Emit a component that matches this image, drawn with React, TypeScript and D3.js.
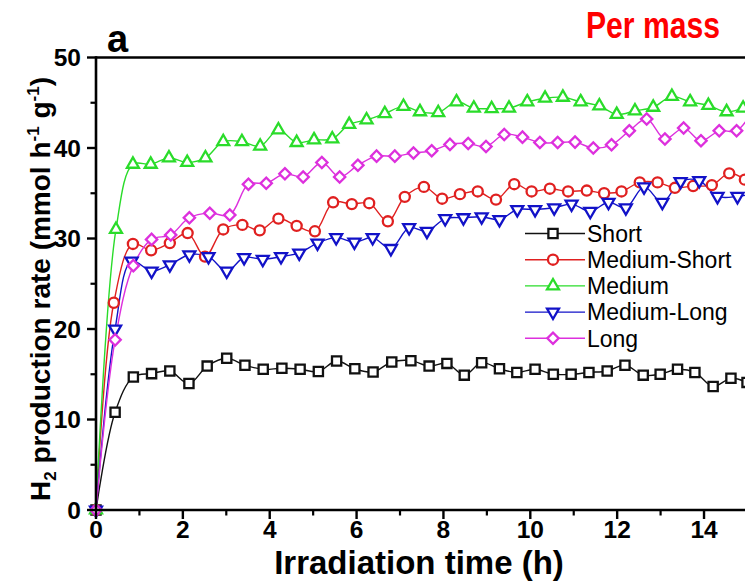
import React from "react";
import * as d3 from "d3";

// Hydrogen evolution per mass for five nanorod aspect ratios
const seriesNames = ["Short", "Medium-Short", "Medium", "Medium-Long", "Long"];

const hoursShort = [0, 0.44, 0.86, 1.28, 1.7, 2.14, 2.56, 3.01, 3.43, 3.85, 4.28, 4.7, 5.12, 5.54, 5.96, 6.38, 6.81, 7.25, 7.67, 8.08, 8.48, 8.88, 9.29, 9.69, 10.11, 10.53, 10.94, 11.35, 11.77, 12.18, 12.6, 12.99, 13.39, 13.79, 14.21, 14.62, 14.99];
const rateShort = [0, 10.8, 14.7, 15.07, 15.36, 13.97, 15.9, 16.76, 16.0, 15.55, 15.66, 15.55, 15.3, 16.46, 15.6, 15.25, 16.35, 16.5, 15.9, 16.2, 14.9, 16.28, 15.6, 15.2, 15.55, 15.0, 15.0, 15.2, 15.36, 16.0, 14.9, 15.0, 15.55, 15.2, 13.65, 14.55, 14.1];

const hoursMediumShort = [0, 0.41, 0.85, 1.27, 1.7, 2.11, 2.51, 2.93, 3.37, 3.77, 4.2, 4.62, 5.04, 5.46, 5.89, 6.29, 6.72, 7.11, 7.55, 7.97, 8.38, 8.79, 9.21, 9.63, 10.03, 10.45, 10.87, 11.3, 11.7, 12.1, 12.52, 12.93, 13.33, 13.75, 14.18, 14.58, 14.94];
const rateMediumShort = [0, 22.9, 29.4, 28.7, 29.5, 30.6, 28.0, 31.0, 31.5, 30.9, 32.2, 31.4, 30.8, 34.0, 33.8, 33.9, 31.9, 34.6, 35.7, 34.4, 34.9, 35.2, 34.3, 36.0, 35.2, 35.5, 35.2, 35.3, 35.0, 35.2, 36.2, 36.2, 35.6, 35.8, 35.9, 37.2, 36.5];

const hoursMedium = [0, 0.46, 0.85, 1.26, 1.68, 2.1, 2.52, 2.93, 3.36, 3.78, 4.2, 4.62, 5.02, 5.44, 5.83, 6.23, 6.65, 7.08, 7.46, 7.88, 8.3, 8.7, 9.11, 9.51, 9.93, 10.34, 10.75, 11.16, 11.59, 11.99, 12.41, 12.83, 13.26, 13.68, 14.1, 14.52, 14.9];
const rateMedium = [0, 31.0, 38.2, 38.2, 38.9, 38.4, 38.9, 40.7, 40.7, 40.2, 42.0, 40.6, 40.9, 41.0, 42.6, 43.1, 43.8, 44.6, 44.0, 43.9, 45.1, 44.4, 44.35, 44.4, 45.1, 45.5, 45.6, 45.1, 44.65, 43.7, 44.1, 44.5, 45.7, 45.1, 44.7, 44.0, 44.4];

const hoursMediumLong = [0, 0.44, 0.82, 1.28, 1.7, 2.15, 2.59, 3.01, 3.41, 3.84, 4.26, 4.68, 5.1, 5.53, 5.95, 6.37, 6.79, 7.21, 7.62, 8.04, 8.46, 8.88, 9.29, 9.7, 10.11, 10.55, 10.95, 11.38, 11.8, 12.2, 12.62, 13.04, 13.46, 13.89, 14.31, 14.77, 15.17];
const rateMediumLong = [0, 20.0, 27.5, 26.4, 27.1, 28.2, 28.0, 26.4, 27.9, 27.7, 28.0, 28.4, 29.5, 30.1, 29.6, 30.1, 28.9, 31.2, 30.8, 32.2, 32.3, 32.4, 32.1, 33.2, 33.2, 33.4, 33.8, 33.0, 34.0, 33.4, 35.7, 34.0, 36.3, 36.4, 34.65, 34.65, 35.0];

const hoursLong = [0, 0.44, 0.86, 1.28, 1.72, 2.15, 2.62, 3.08, 3.51, 3.92, 4.35, 4.77, 5.2, 5.61, 6.03, 6.46, 6.88, 7.31, 7.73, 8.15, 8.57, 8.98, 9.4, 9.82, 10.22, 10.63, 11.03, 11.45, 11.87, 12.28, 12.68, 13.1, 13.53, 13.93, 14.35, 14.75, 15.17];
const rateLong = [0, 18.8, 27.0, 29.9, 30.4, 32.3, 32.8, 32.6, 36.0, 36.1, 37.15, 36.8, 38.4, 36.8, 38.1, 39.1, 39.1, 39.45, 39.7, 40.4, 40.5, 40.17, 41.5, 41.2, 40.6, 40.6, 40.65, 40.0, 40.35, 41.9, 43.2, 41.0, 42.2, 40.8, 41.9, 41.9, 44.5];

const xTickValues = [0, 2, 4, 6, 8, 10, 12, 14];
const yTickValues = [0, 10, 20, 30, 40, 50];

const colors = ["#111111", "#e02020", "#2adc2a", "#1212c8", "#dd30dd"];
const shapes = ["square", "circle", "triangle", "triangleDown", "diamond"];

const series = [
  { hours: hoursShort, rate: rateShort },
  { hours: hoursMediumShort, rate: rateMediumShort },
  { hours: hoursMedium, rate: rateMedium },
  { hours: hoursMediumLong, rate: rateMediumLong },
  { hours: hoursLong, rate: rateLong },
].map((s, i) => ({ ...s, name: seriesNames[i], color: colors[i], shape: shapes[i] }));

const W = 745;
const H = 582;
const x0 = 96;
const pxPerHour = 43.43;
const x = d3.scaleLinear().domain([0, 16]).range([x0, x0 + 16 * pxPerHour]);
const y = d3.scaleLinear().domain([0, 50]).range([510, 57.5]);

const FONT = "'Liberation Sans', Arial, Helvetica, sans-serif";

function markerPath(shape: string): { d: string; rotate: number } {
  switch (shape) {
    case "square":
      return { d: d3.symbol().type(d3.symbolSquare).size(85)()!, rotate: 0 };
    case "circle":
      return { d: d3.symbol().type(d3.symbolCircle).size(80)()!, rotate: 0 };
    case "triangle":
      return { d: d3.symbol().type(d3.symbolTriangle).size(62)()!, rotate: 0 };
    case "triangleDown":
      return { d: d3.symbol().type(d3.symbolTriangle).size(62)()!, rotate: 180 };
    default:
      return { d: d3.symbol().type(d3.symbolSquare).size(64)()!, rotate: 45 };
  }
}

function Marker({ shape, cx, cy, color }: { shape: string; cx: number; cy: number; color: string }) {
  const m = markerPath(shape);
  return (
    <path
      d={m.d}
      transform={`translate(${cx},${cy}) rotate(${m.rotate})`}
      fill="#fff"
      stroke={color}
      strokeWidth={2.3}
    />
  );
}

export default function App() {
  const line = d3
    .line<[number, number]>()
    .x((d) => x(d[0]))
    .y((d) => y(d[1]))
    .curve(d3.curveCatmullRom.alpha(0.5));

  const xMinor = d3.range(1, 16, 2);
  const yMinor = d3.range(5, 50, 10);
  const axisW = 2.6;

  const legendX = 525;
  const legendY0 = 233.5;
  const legendDy = 26.2;

  return (
    <div style={{ position: "absolute", left: 0, top: 0, width: W, height: H, overflow: "hidden" }}>
      <svg width={W} height={H} style={{ display: "block", background: "#fff" }} fontFamily={FONT}>
        {/* series lines */}
        {series.map((s) => (
          <path
            key={s.name + "-line"}
            d={line(s.hours.map((h, i) => [h, s.rate[i]] as [number, number])) || ""}
            fill="none"
            stroke={s.color}
            strokeWidth={1.4}
          />
        ))}
        {/* series markers */}
        {series.map((s) => (
          <g key={s.name + "-pts"}>
            {s.hours.map((h, i) => (
              <Marker key={i} shape={s.shape} cx={x(h)} cy={y(s.rate[i])} color={s.color} />
            ))}
          </g>
        ))}

        {/* frame */}
        <line x1={x0} x2={W + 10} y1={y(50)} y2={y(50)} stroke="#000" strokeWidth={axisW} />
        <line x1={x0} x2={W + 10} y1={y(0)} y2={y(0)} stroke="#000" strokeWidth={axisW} />
        <line x1={x0} x2={x0} y1={y(0) + 1.3} y2={y(50) - 1.3} stroke="#000" strokeWidth={axisW} />

        {/* x ticks */}
        {xTickValues.map((t) => (
          <g key={"xt" + t}>
            <line x1={x(t)} x2={x(t)} y1={y(0)} y2={y(0) + 9} stroke="#000" strokeWidth={2.4} />
            <text x={x(t)} y={537.5} textAnchor="middle" fontSize={24.5} fontWeight="bold">
              {t}
            </text>
          </g>
        ))}
        {xMinor.map((t) => (
          <line key={"xm" + t} x1={x(t)} x2={x(t)} y1={y(0)} y2={y(0) + 5.5} stroke="#000" strokeWidth={2.2} />
        ))}

        {/* y ticks */}
        {yTickValues.map((t) => (
          <g key={"yt" + t}>
            <line x1={x0 - 9} x2={x0} y1={y(t)} y2={y(t)} stroke="#000" strokeWidth={2.4} />
            <text x={81} y={y(t) + 8.7} textAnchor="end" fontSize={24.5} fontWeight="bold">
              {t}
            </text>
          </g>
        ))}
        {yMinor.map((t) => (
          <line key={"ym" + t} x1={x0 - 5.5} x2={x0} y1={y(t)} y2={y(t)} stroke="#000" strokeWidth={2.2} />
        ))}

        {/* axis titles */}
        <text x={419} y={574} textAnchor="middle" fontSize={33} fontWeight="bold">
          Irradiation time (h)
        </text>
        <text
          transform={`translate(50,${289}) rotate(-90)`}
          textAnchor="middle"
          fontSize={28}
          fontWeight="bold"
        >
          H<tspan fontSize={17} dy={6}>2</tspan>
          <tspan dy={-6}> production rate (mmol h</tspan>
          <tspan fontSize={17} dy={-11}>-1</tspan>
          <tspan dy={11}> g</tspan>
          <tspan fontSize={17} dy={-11}>-1</tspan>
          <tspan dy={11}>)</tspan>
        </text>

        {/* panel letter and heading */}
        <text x={107} y={52} fontSize={38} fontWeight="bold">
          a
        </text>
        <text
          x={586}
          y={38}
          fontSize={36}
          fontWeight="bold"
          fill="#ff0000"
          textLength={134}
          lengthAdjust="spacingAndGlyphs"
        >
          Per mass
        </text>

        {/* legend */}
        {series.map((s, i) => {
          const cy = legendY0 + i * legendDy;
          return (
            <g key={s.name + "-leg"}>
              <line x1={legendX} x2={legendX + 60} y1={cy} y2={cy} stroke={s.color} strokeWidth={1.4} />
              <Marker shape={s.shape} cx={legendX + 28} cy={cy} color={s.color} />
              <text x={legendX + 62} y={cy + 8.2} fontSize={23}>
                {s.name}
              </text>
            </g>
          );
        })}
      </svg>
    </div>
  );
}
